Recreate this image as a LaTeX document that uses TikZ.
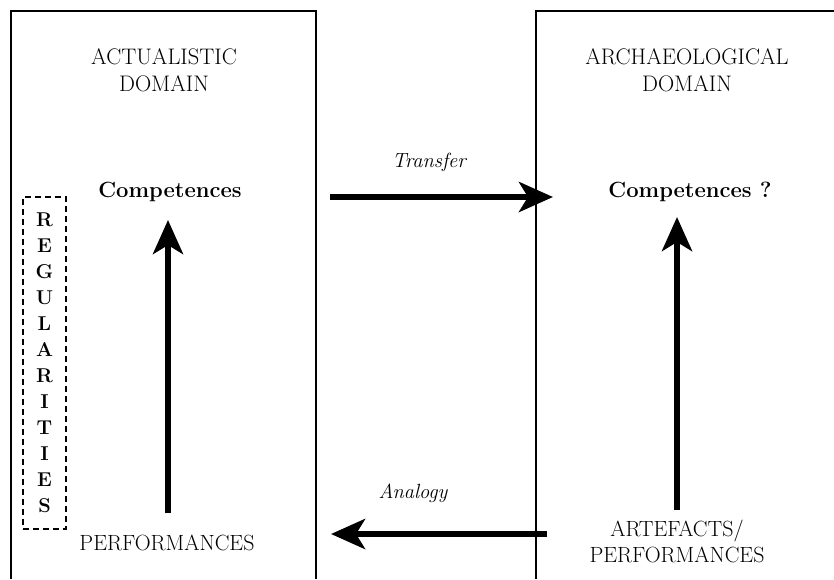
\documentclass[tikz,border=0pt]{standalone}
\usetikzlibrary{arrows.meta}
\tikzset{
  framestyle/.style={line width=1.6pt},
  bigarrow/.style={line width=6pt,-{Stealth[length=34pt,width=30pt,inset=9pt]}},
  domtitle/.style={font=\fontsize{22.5}{27}\selectfont,align=center,anchor=base,inner sep=0pt},
  plaintext/.style={font=\fontsize{22}{26}\selectfont,align=center,anchor=base,inner sep=0pt},
  compstyle/.style={font=\bfseries\fontsize{22}{24}\selectfont,anchor=base,inner sep=0pt},
  arrlabel/.style={font=\itshape\fontsize{20.5}{22}\selectfont,anchor=base,inner sep=0pt},
  regbox/.style={draw,line width=1.5pt,dash pattern=on 6pt off 4pt,minimum width=43pt,minimum height=332pt,inner sep=0pt,font=\bfseries\fontsize{20}{26}\selectfont,align=center}
}
\begin{document}
\begin{tikzpicture}[x=1pt,y=-1pt]
\useasboundingbox (0,0) rectangle (834,579);
% domain frames (open at the bottom / right)
\draw[framestyle] (11,579) -- (11,11) -- (316,11) -- (316,579);
\draw[framestyle] (536,579) -- (536,11) -- (834,11);
% titles (base anchor = last line)
\node[domtitle] (actT) at (164,91) {ACTUALISTIC\\DOMAIN};
\node[domtitle] (arcT) at (687,91) {ARCHAEOLOGICAL\\DOMAIN};
% competences
\node[compstyle] (compL) at (170,197) {Competences};
\node[compstyle] (compR) at (690,197) {Competences ?};
% bottom labels
\node[plaintext] (perfL) at (167,550) {PERFORMANCES};
\node[plaintext] (perfR) at (677,562) {ARTEFACTS/\\PERFORMANCES};
% regularities
\node[regbox] (reg) at (44.5,363) {R\\E\\G\\U\\L\\A\\R\\I\\T\\I\\E\\S};
% arrow labels
\node[arrlabel] (transfer) at (429,167) {Transfer};
\node[arrlabel] (analogy) at (413,498) {Analogy};
% arrows
\coordinate (tS) at (330,197);
\coordinate (tE) at (553,197);
\coordinate (aS) at (547,534);
\coordinate (aE) at (331,534);
\coordinate (lS) at (168,513);
\coordinate (lE) at (168,220);
\coordinate (rS) at (677,510);
\coordinate (rE) at (677,217);
\draw[bigarrow] (tS) -- (tE);
\draw[bigarrow] (aS) -- (aE);
\draw[bigarrow] (lS) -- (lE);
\draw[bigarrow] (rS) -- (rE);
\end{tikzpicture}
\end{document}
